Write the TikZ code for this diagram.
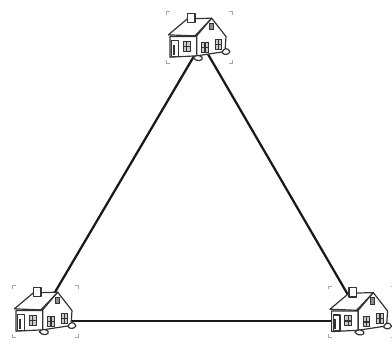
\documentclass[tikz,border=0pt]{standalone}
\usepackage{amsmath}
\usetikzlibrary{positioning,calc}
\definecolor{wallE}{HTML}{333333}
\definecolor{tickE}{HTML}{A8A8A8}
\definecolor{paneF}{HTML}{8C8C8C}

\begin{document}
\begin{tikzpicture}[
    hut/.style={circle,inner sep=0pt,minimum size=1pt},
    link/.style={line width=1.6pt,color=black!90},
    outl/.style={draw=wallE,line width=0.85pt,line join=round},
    pane/.style={draw=wallE,fill=paneF!45,line width=0.7pt},
    tick/.style={draw=tickE,line width=0.6pt},
    cottage/.pic={
      \begin{scope}[x=0.00833cm,y=0.00833cm]
        % corner ticks of the frame
        \foreach \x/\y/\a/\b in {-100/77/1/-1,98/77/-1/-1,-100/-78/1/1,98/-78/-1/1}
          \draw[tick] (\x+10*\a,\y) -- (\x,\y) -- (\x,\y+10*\b);
        % walls
        \draw[outl,fill=white] (-90,2) -- (-90,-60) -- (-10,-56) -- (-10,2) -- cycle;
        \draw[outl,fill=white] (35,57) -- (78,2) -- (75,-43) -- (-10,-56) -- (-10,4) -- cycle;
        % roof, chimney sits in front of the ridge
        \draw[outl,fill=white] (-95,7) -- (-38,55) -- (35,57) -- (-15,4) -- cycle;
        \draw[outl,fill=white] (-38,72) -- (-15,72) -- (-15,44) -- (-38,44) -- cycle;
        % door and windows
        \draw[outl,fill=white] (-85,-10) rectangle (-65,-58);
        \draw[pane] (-81,-24) rectangle (-77,-52);
        \foreach \x/\y in {-50/-13,5/-16,45/-6} {
          \draw[pane] (\x,\y) rectangle (\x+20,\y-30);
          \draw[outl] (\x+10,\y) -- (\x+10,\y-30) (\x,\y-15) -- (\x+20,\y-15);
        }
        \draw[pane,fill=paneF] (28,42) rectangle (40,22);
        % shrubs along the foot of the house
        \draw[outl,fill=white] (-20,-62) .. controls (-14,-52) and (0,-54) .. (6,-60)
          .. controls (14,-70) and (-12,-76) .. (-20,-62) -- cycle;
        \draw[outl,fill=white] (66,-46) .. controls (70,-32) and (84,-30) .. (90,-44)
          .. controls (84,-54) and (72,-54) .. (66,-46) -- cycle;
      \end{scope}
    },
]

\useasboundingbox (0,0) rectangle (9.8,8.9);

% line ends meet inside the three houses
\node[hut] (hutTop)   at (5.04,7.82) {};
\node[hut] (hutLeft)  at (0.95,0.875) {};
\node[hut] (hutRight) at (9.08,0.875) {};

\draw[link] (hutTop) -- (hutLeft);
\draw[link] (hutTop) -- (hutRight);
\draw[link] (hutLeft) -- (hutRight);

% houses go on top and hide the line ends
\pic at (5.0,7.97) {cottage};
\pic at (1.15,1.12) {cottage};
\pic at (9.04,1.11) {cottage};

\end{tikzpicture}
\end{document}
